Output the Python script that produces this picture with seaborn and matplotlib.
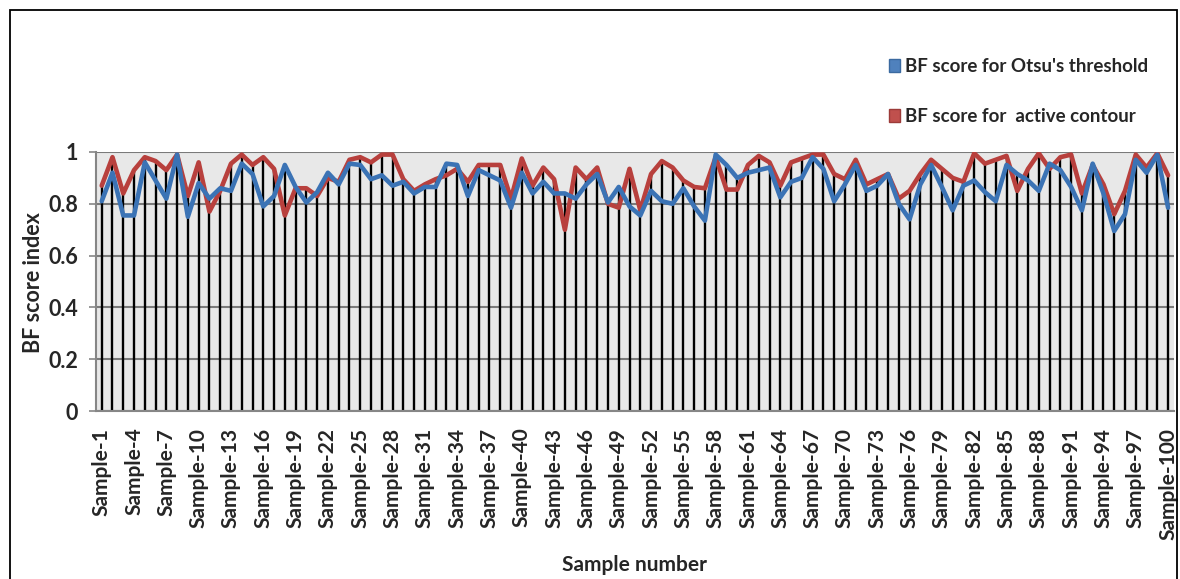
import numpy as np
import pandas as pd
import seaborn as sns
import matplotlib.pyplot as plt
from matplotlib.patches import Patch, Rectangle

# Wartości (BF score dla 100 próbek)
otsu = [0.81, 0.92, 0.755, 0.755, 0.96, 0.89, 0.82, 0.99, 0.75, 0.88,
        0.82, 0.86, 0.85, 0.955, 0.915, 0.79, 0.83, 0.95, 0.865, 0.805,
        0.845, 0.92, 0.875, 0.955, 0.95, 0.895, 0.91, 0.87, 0.885, 0.84,
        0.865, 0.865, 0.955, 0.95, 0.83, 0.93, 0.91, 0.89, 0.785, 0.92,
        0.84, 0.885, 0.84, 0.84, 0.82, 0.875, 0.915, 0.805, 0.865, 0.79,
        0.755, 0.85, 0.81, 0.80, 0.86, 0.79, 0.735, 0.99, 0.95, 0.90,
        0.92, 0.93, 0.94, 0.825, 0.885, 0.90, 0.98, 0.935, 0.81, 0.875,
        0.95, 0.85, 0.87, 0.915, 0.80, 0.74, 0.875, 0.95, 0.865, 0.775,
        0.87, 0.89, 0.845, 0.81, 0.95, 0.915, 0.89, 0.85, 0.955, 0.93,
        0.865, 0.775, 0.955, 0.84, 0.695, 0.76, 0.97, 0.92, 0.99, 0.785]

active = [0.87, 0.98, 0.84, 0.93, 0.98, 0.965, 0.93, 0.99, 0.83, 0.96,
          0.77, 0.85, 0.955, 0.99, 0.95, 0.98, 0.935, 0.755, 0.86, 0.86,
          0.83, 0.90, 0.885, 0.97, 0.98, 0.96, 0.99, 0.99, 0.895, 0.85,
          0.875, 0.895, 0.91, 0.935, 0.885, 0.95, 0.95, 0.95, 0.82, 0.975,
          0.87, 0.94, 0.895, 0.70, 0.94, 0.895, 0.94, 0.80, 0.785, 0.935,
          0.775, 0.915, 0.965, 0.94, 0.89, 0.865, 0.86, 0.98, 0.855, 0.855,
          0.95, 0.985, 0.96, 0.87, 0.96, 0.975, 0.99, 0.99, 0.915, 0.895,
          0.97, 0.875, 0.895, 0.915, 0.82, 0.85, 0.915, 0.97, 0.935, 0.90,
          0.885, 0.995, 0.955, 0.97, 0.985, 0.85, 0.935, 0.995, 0.935, 0.98,
          0.99, 0.84, 0.95, 0.875, 0.76, 0.85, 0.99, 0.94, 0.995, 0.91]

samples = ["Sample-%d" % i for i in range(1, 101)]
label_otsu = "BF score for Otsu's threshold"
label_active = "BF score for  active contour"

df = pd.DataFrame({"idx": range(len(samples)), "sample": samples,
                   "otsu": otsu, "active": active})

sns.set_style("white")
plt.rcParams["font.family"] = ["Lato", "DejaVu Sans"]
plt.rcParams["font.weight"] = "bold"

fig = plt.figure(figsize=(11.8, 5.79), dpi=100)
ax = fig.add_axes([96 / 1180, 1 - 411 / 579, (1174 - 96) / 1180, (411 - 152) / 579])
ax.set_facecolor("#e8e8e8")

# Linie pionowe (drop lines) od punktu do osi
top = np.maximum(df["otsu"], df["active"])
ax.vlines(df["idx"], 0, top, color="black", lw=1.7, zorder=2)

sns.lineplot(data=df, x="idx", y="active", color="#b8403d", lw=3.3, ax=ax, zorder=3)
sns.lineplot(data=df, x="idx", y="otsu", color="#3b73b5", lw=3.3, ax=ax, zorder=4)

ax.set_ylim(0, 1)
ax.set_xlim(-0.53, 99.55)
ax.set_yticks([0, 0.2, 0.4, 0.6, 0.8, 1.0])
ax.set_yticklabels(["0", "0.2", "0.4", "0.6", "0.8", "1"], fontsize=15.5, fontweight="bold")
ax.yaxis.grid(True, color="#7a7a7a", lw=1.5, zorder=1)
ax.set_axisbelow(True)
ax.set_xticks(df["idx"][::3])
ax.set_xticklabels(df["sample"][::3], rotation=90, fontsize=15, fontweight="bold")
ax.tick_params(axis="x", length=0, pad=12)
ax.tick_params(axis="y", length=5, width=1.2, color="#868686", direction="out", left=True, pad=8)

for s in ["top", "right"]:
    ax.spines[s].set_visible(False)
for s in ["left", "bottom"]:
    ax.spines[s].set_color("#868686")
    ax.spines[s].set_linewidth(1.5)

ax.set_ylabel("")
ax.set_xlabel("")
fig.text(33 / 1180, 1 - 283 / 579, "BF score index", ha="center", va="center",
         rotation=90, fontsize=15.5, fontweight="bold")
fig.text(634 / 1180, 1 - 565 / 579, "Sample number", ha="center", va="center",
         fontsize=15, fontweight="bold")

handles = [Patch(facecolor="#4f81bd", edgecolor="#3b6aa0", label=label_otsu),
           Patch(facecolor="#c0504d", edgecolor="#9c3b39", label=label_active)]
fig.legend(handles=handles, loc="upper left", bbox_to_anchor=(872 / 1180, 1 - 41 / 579),
           frameon=False, handlelength=0.6, handleheight=0.7,
           handletextpad=0.25, labelspacing=1.75, prop={"weight": "bold", "size": 13.5})

# Ramka wokół wykresu
fig.patches.append(Rectangle((10 / 1180, -0.02), 1167 / 1180, 1 - 10 / 579 + 0.02,
                             transform=fig.transFigure, fill=False, ec="black", lw=1.3))

fig.savefig("out.png", dpi=100)
